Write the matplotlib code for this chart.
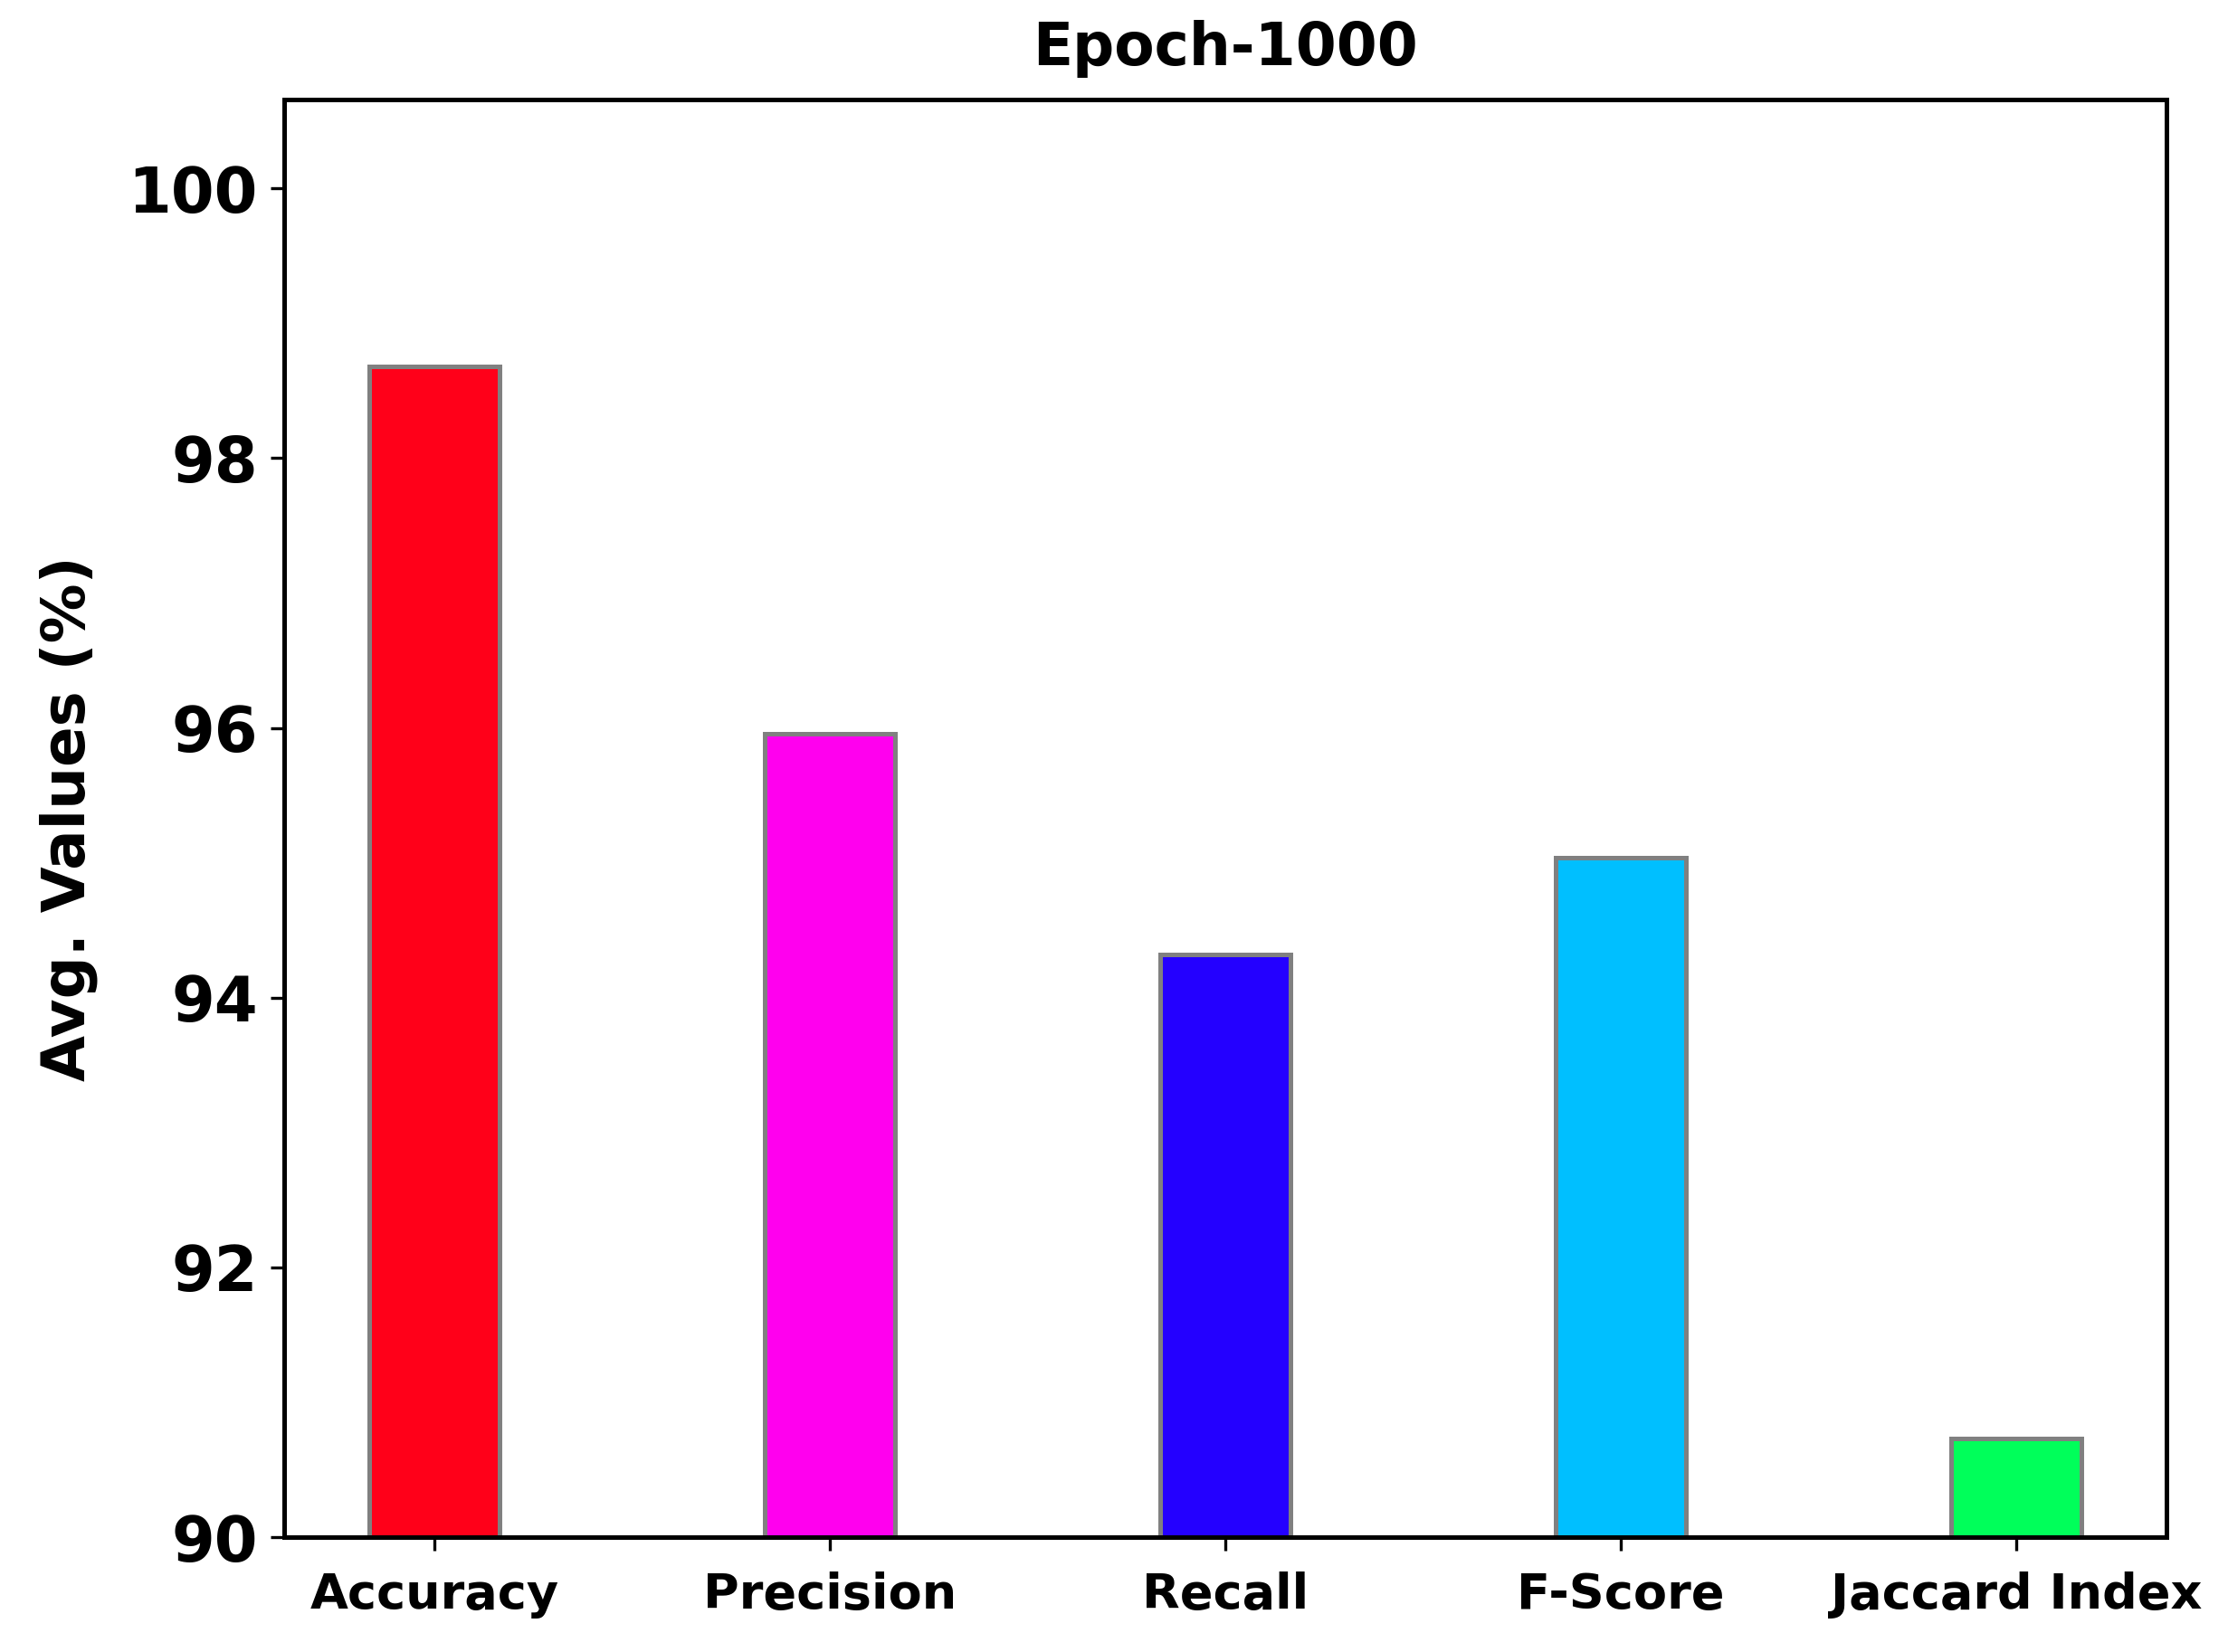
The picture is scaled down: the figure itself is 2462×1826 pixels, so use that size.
import matplotlib
matplotlib.use('Agg')
import matplotlib.pyplot as plt
import numpy as np

metrics = ['Accuracy', 'Precision', 'Recall', 'F-Score', 'Jaccard Index']
values = [98.68, 95.96, 94.32, 95.04, 90.73]
colors = ['#ff0019', '#ff00ee', '#2400ff', '#00bfff', '#00ff5a']
yticks = [90, 92, 94, 96, 98, 100]

fig = plt.figure(figsize=(2462/300, 1826/300), dpi=300)
ax = fig.add_axes([0.1275, 0.0695, 0.845, 0.8703])

x = np.arange(len(metrics))
ax.bar(x, values, width=0.33, color=colors, edgecolor='grey', linewidth=1.2)

ax.set_ylim(90, 100.66)
ax.set_xlim(-0.38, 4.38)
ax.set_yticks(yticks)
ax.set_xticks(x)
ax.set_xticklabels(metrics, fontsize=13.0, fontweight='bold')
ax.tick_params(axis='x', pad=5.5)
plt.setp(ax.get_yticklabels(), fontsize=16.5, fontweight='bold')
ax.set_ylabel('Avg. Values (%)', fontsize=15.8, fontweight='bold', labelpad=8)
ax.set_title('Epoch-1000', fontsize=15.5, fontweight='bold', pad=9)
for s in ax.spines.values():
    s.set_linewidth(1.2)

fig.savefig('out.png', dpi=300)
